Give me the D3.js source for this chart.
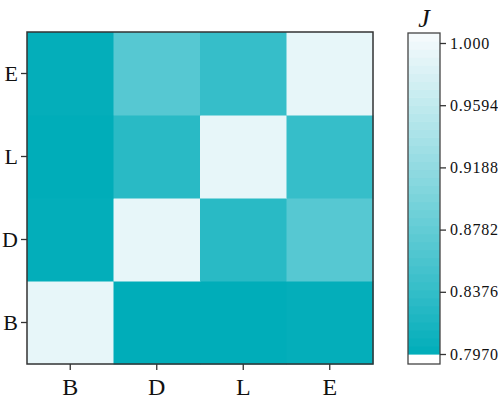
<!DOCTYPE html>
<html>
<head>
<meta charset="utf-8">
<script src="https://cdn.jsdelivr.net/npm/d3@7"></script>
<style>
  body { margin: 0; background: #fff; }
  text { font-family: "Liberation Serif", "DejaVu Serif", serif; fill: #111; }
</style>
</head>
<body>
<svg id="chart" width="498" height="401"></svg>
<script>
// categories (x left->right, y bottom->top)
const cats = ['B', 'D', 'L', 'E'];
// similarity J, row = y category, col = x category
const rowB = [1.000, 0.797, 0.797, 0.800];
const rowD = [0.799, 1.000, 0.830, 0.868];
const rowL = [0.797, 0.830, 1.000, 0.840];
const rowE = [0.800, 0.868, 0.840, 1.000];
const rows = [rowB, rowD, rowL, rowE];
const barTicks = [0.7970, 0.8376, 0.8782, 0.9188, 0.9594, 1.000];
const barLabels = ['0.7970', '0.8376', '0.8782', '0.9188', '0.9594', '1.000'];

const svg = d3.select('#chart');

const x = d3.scaleBand().domain(cats).range([27, 373]);
const y = d3.scaleBand().domain(cats).range([364, 32]);

const vmin = 0.797, vmax = 1.0065;
const color = d3.scaleLinear()
  .domain([vmin, 0.84, vmax])
  .range(['#00adb9', '#36bec9', '#f7fbfd'])
  .clamp(true);
const nLevels = 40;
const step = (vmax - vmin) / nLevels;

const cells = [];
rows.forEach((r, i) => r.forEach((v, j) => cells.push({ row: cats[i], col: cats[j], v })));

svg.append('g').selectAll('rect')
  .data(cells)
  .enter().append('rect')
  .attr('x', d => x(d.col))
  .attr('y', d => y(d.row))
  .attr('width', x.bandwidth() + 0.5)
  .attr('height', y.bandwidth() + 0.5)
  .attr('fill', d => color(d.v >= 0.999 ? 0.993 : d.v));

svg.append('rect')
  .attr('x', 27).attr('y', 32).attr('width', 346).attr('height', 332)
  .attr('fill', 'none').attr('stroke', '#333').attr('stroke-width', 1.5);

// axes
const xAxis = svg.append('g')
  .attr('transform', 'translate(0,364)')
  .call(d3.axisBottom(x).tickSize(6));
const yAxis = svg.append('g')
  .attr('transform', 'translate(27,0)')
  .call(d3.axisLeft(y).tickSize(6).tickPadding(3));
[xAxis, yAxis].forEach(a => {
  a.select('.domain').remove();
  a.selectAll('line').attr('stroke', '#333').attr('stroke-width', 1.3);
  a.selectAll('text').style('font-size', '24px').attr('fill', '#111');
});
xAxis.selectAll('text').attr('y', 31).attr('dy', 0);
yAxis.selectAll('text').style('font-size', '22px').attr('dy', '0.36em');

// colour bar
const cb = d3.scaleLinear().domain([0.797, 1.0]).range([354, 43]);
const cbX = 408, cbW = 32;
const bands = d3.range(nLevels).map(i => vmin + i * step);
svg.append('g').selectAll('rect')
  .data(bands)
  .enter().append('rect')
  .attr('x', cbX)
  .attr('y', d => cb(d + step))
  .attr('width', cbW)
  .attr('height', d => cb(d) - cb(d + step) + 0.6)
  .attr('fill', d => color(d + step / 2));
svg.append('rect')
  .attr('x', cbX).attr('y', 33).attr('width', cbW).attr('height', 331)
  .attr('fill', 'none').attr('stroke', '#444').attr('stroke-width', 1.3);

const cbAxis = svg.append('g')
  .attr('transform', `translate(${cbX + cbW},0)`)
  .call(d3.axisRight(cb).tickValues(barTicks).tickFormat((d, i) => barLabels[i]).tickSize(6).tickPadding(4));
cbAxis.select('.domain').remove();
cbAxis.selectAll('line').attr('stroke', '#333').attr('stroke-width', 1.3);
cbAxis.selectAll('text').style('font-size', '16px').style('letter-spacing', '0.8px').attr('fill', '#111');

svg.append('text')
  .attr('x', 424).attr('y', 27)
  .attr('text-anchor', 'middle')
  .style('font-size', '26px')
  .style('font-style', 'italic')
  .text('J');
</script>
</body>
</html>
